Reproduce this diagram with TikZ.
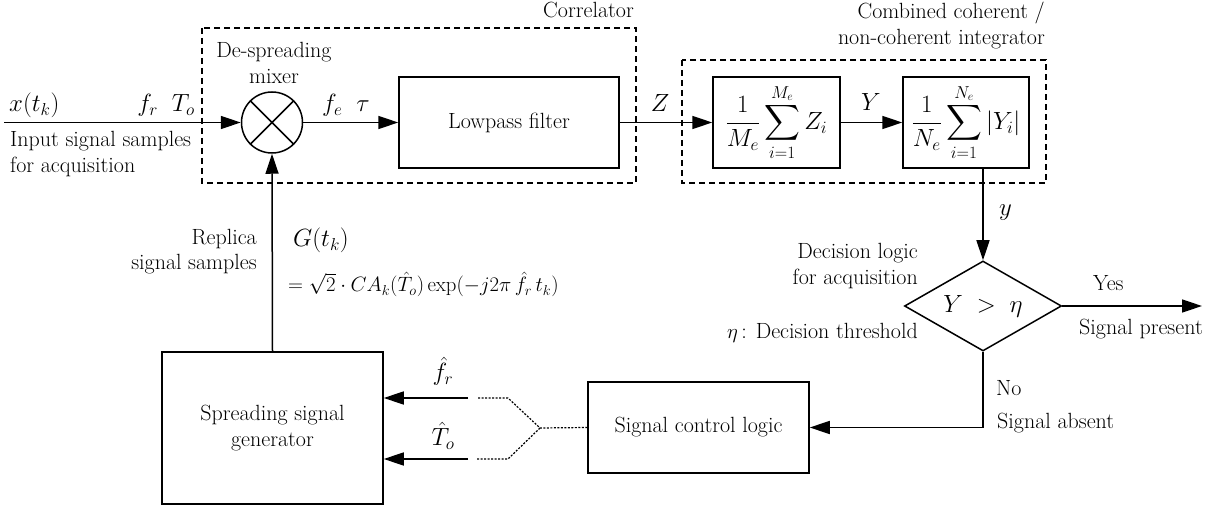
\documentclass[tikz,border=0pt]{standalone}
\usepackage{amsmath}
\usetikzlibrary{arrows.meta,shapes.geometric}
\tikzset{
  blk/.style={draw,line width=1.5pt,inner sep=0pt,align=center},
  arr/.style={line width=1.5pt,-{Triangle[length=20pt,width=13pt]}},
  ln/.style={line width=1.5pt},
  grp/.style={line width=2.2pt,dash pattern=on 6pt off 4pt},
  dots/.style={line width=1.2pt,dash pattern=on 2pt off 1.5pt},
  lbl/.style={inner sep=0pt},
  mlbl/.style={inner sep=0pt,font=\fontsize{24}{28}\selectfont},
  every node/.style={font=\fontsize{22}{26}\selectfont}
}
\begin{document}
\begin{tikzpicture}[x=1pt,y=-1pt]
\useasboundingbox (0,0) rectangle (1219,510);
% dashed groups
\draw[grp] (202,28) rectangle (636,183);
\draw[grp] (682,60) rectangle (1046,183);
% blocks
\node[draw,circle,line width=1.5pt,minimum size=61pt,inner sep=0pt] (mix) at (272,122.5) {};
\draw[ln] (mix.45) -- (mix.225) (mix.135) -- (mix.-45);
\node[blk,minimum width=220pt,minimum height=91pt] (lpf) at (509,122.5) {Lowpass filter};
\node[blk,minimum width=127pt,minimum height=91pt] (b1) at (776.5,122.5) {\fontsize{23}{28}\selectfont$\dfrac{1}{M_e}\displaystyle\sum_{i=1}^{M_e} Z_i$};
\node[blk,minimum width=126pt,minimum height=91pt] (b2) at (966,122.5) {\fontsize{23}{28}\selectfont$\dfrac{1}{N_e}\displaystyle\sum_{i=1}^{N_e}\left|Y_i\right|$};
\node[draw,diamond,line width=1.5pt,inner sep=0pt,aspect=1.744,minimum width=157pt,minimum height=90pt,font=\fontsize{24}{28}\selectfont] (dec) at (983,306) {$Y \;>\; \eta$};
\node[blk,minimum width=221pt,minimum height=91pt] (ctrl) at (698.5,427.5) {Signal control logic};
\node[blk,minimum width=221pt,minimum height=152pt] (gen) at (272.5,428) {Spreading signal\\generator};
% coordinates
\coordinate (in) at (4,122.5);
\coordinate (out) at (1202,306);
\coordinate (sp) at (540,428);
\coordinate (u1) at (508,398);
\coordinate (u2) at (477,398);
\coordinate (u3) at (468,398);
\coordinate (d1) at (508,459);
\coordinate (d2) at (477,459);
\coordinate (d3) at (468,459);
% connectors
\draw[arr] (in) -- (mix.west);
\draw[arr] (mix.east) -- (lpf.west);
\draw[arr] (lpf.east) -- (b1.west);
\draw[arr] (b1.east) -- (b2.west);
\draw[arr] (dec.north |- b2.south) -- (dec.north);
\draw[arr] (dec.east) -- (out);
\draw[arr] (dec.south) |- (ctrl.east);
\draw[arr] (gen.north) -- (mix.south);
\draw[dots] (ctrl.west) -- (sp) -- (u1) -- (u2);
\draw[dots] (sp) -- (d1) -- (d2);
\draw[arr] (u3) -- (u3 -| gen.east);
\draw[arr] (d3) -- (d3 -| gen.east);
% labels
\node[mlbl,anchor=base west] (xt) at (9,112) {$x(t_k)$};
\node[mlbl,anchor=base east] (frto) at (195,112) {$f_r\;\; T_o$};
\node[lbl,anchor=base west] (isl1) at (10,147) {Input signal samples};
\node[lbl,anchor=base west] (isl2) at (10,173) {for acquisition};
\node[lbl,anchor=base] (ds1) at (274,58) {De-spreading};
\node[lbl,anchor=base] (ds2) at (274,84) {mixer};
\node[mlbl,anchor=base west] (fe) at (322,112) {$f_e\;\;\tau$};
\node[lbl,anchor=base east] (corr) at (634,18) {Correlator};
\node[mlbl,anchor=base] (zl) at (660,112) {$Z$};
\node[lbl,anchor=base east] (cc1) at (1045,19) {Combined coherent /};
\node[lbl,anchor=base east] (cc2) at (1045,45) {non-coherent integrator};
\node[mlbl,anchor=base] (yl) at (871,111) {$Y$};
\node[mlbl,anchor=base west] (ysm) at (999,216) {$y$};
\node[lbl,anchor=base east] (dl1) at (918,259) {Decision logic};
\node[lbl,anchor=base east] (dl2) at (918,285) {for acquisition};
\node[lbl,anchor=base east] (dth) at (918,339) {$\eta\,$: Decision threshold};
\node[lbl,anchor=base west] (yes) at (1093,291) {Yes};
\node[lbl,anchor=base west] (spr) at (1079,335) {Signal present};
\node[lbl,anchor=base west] (no) at (996,396) {No};
\node[lbl,anchor=base west] (sab) at (997,429) {Signal absent};
\node[lbl,anchor=base east] (rep1) at (257,245) {Replica};
\node[lbl,anchor=base east] (rep2) at (257,270) {signal samples};
\node[mlbl,anchor=base west] (gt) at (293,247) {$G(t_k)$};
\node[lbl,anchor=base west] (gf) at (288,292) {$=\sqrt{2}\cdot CA_k(\hat{T}_o)\exp(-j2\pi\,\hat{f}_r\,t_k)$};
\node[mlbl,anchor=base] (frh) at (443,381) {$\hat{f}_r$};
\node[mlbl,anchor=base] (toh) at (443,446) {$\hat{T}_o$};
\end{tikzpicture}
\end{document}
